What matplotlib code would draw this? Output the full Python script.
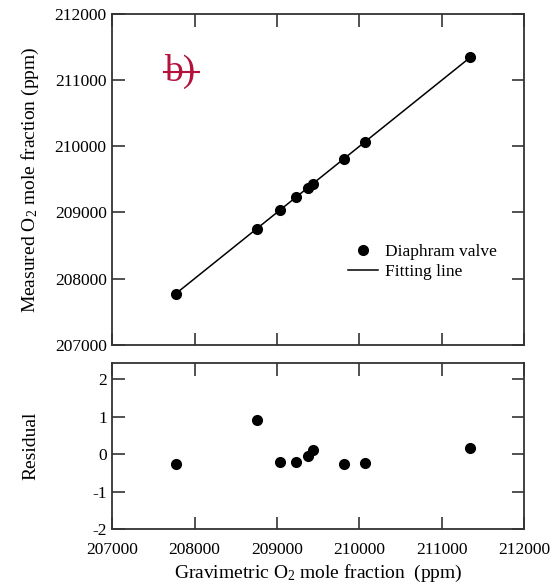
import numpy as np
import matplotlib
matplotlib.use("Agg")
import matplotlib.pyplot as plt

plt.rcParams['font.family'] = 'Liberation Serif'
plt.rcParams['mathtext.fontset'] = 'custom'
plt.rcParams['mathtext.rm'] = 'Liberation Serif'
plt.rcParams['mathtext.it'] = 'Liberation Serif:italic'
plt.rcParams['axes.unicode_minus'] = False

# gravimetric O2 mole fraction (ppm)
grav = [207770, 208755, 209040, 209235, 209375, 209435, 209810, 210065, 211345]
# measured O2 mole fraction (ppm)
measured = [207770, 208756, 209040, 209235, 209375, 209435, 209810, 210065, 211345]
# residuals
residual = [-0.27, 0.90, -0.20, -0.20, -0.04, 0.11, -0.27, -0.23, 0.17]

xticks = [207000, 208000, 209000, 210000, 211000, 212000]
yticks_top = [207000, 208000, 209000, 210000, 211000, 212000]
yticks_res = [-2, -1, 0, 1, 2]

spine_col = '#333333'

fig = plt.figure(figsize=(5.55, 5.88), dpi=100)
ax1 = fig.add_axes([0.2023, 0.4138, 0.7423, 0.5624])
ax2 = fig.add_axes([0.2023, 0.1003, 0.7423, 0.2818])

for ax in (ax1, ax2):
    for s in ax.spines.values():
        s.set_linewidth(1.3)
        s.set_color(spine_col)
    ax.tick_params(direction='in', length=9, width=1.2, color=spine_col,
                   top=True, right=True, labelsize=12.5, pad=4)
    ax.set_xlim(207000, 212000)
    ax.set_xticks(xticks)

# top panel
fit = np.polyfit(grav, measured, 1)
xf = np.array([min(grav), max(grav)])
ax1.plot(xf, np.polyval(fit, xf), color='black', lw=1.1, label='Fitting line')
ax1.plot(grav, measured, 'o', color='black', ms=7, label='Diaphram valve')
ax1.set_ylim(207000, 212000)
ax1.set_yticks(yticks_top)
ax1.set_xticklabels([])
ax1.set_ylabel('Measured O$_2$ mole fraction (ppm)', fontsize=14, labelpad=10)

h, l = ax1.get_legend_handles_labels()
ax1.legend(h[::-1], l[::-1], loc='upper left', bbox_to_anchor=(0.555, 0.325),
           frameon=False, fontsize=12.5, handlelength=1.75, handletextpad=0.4,
           labelspacing=0.2, borderaxespad=0)

ax1.text(0.125, 0.826, 'b)', transform=ax1.transAxes, color='#b3123c',
         fontsize=27, ha='left', va='center')
ax1.plot([0.125, 0.21], [0.826, 0.826], transform=ax1.transAxes,
         color='#b3123c', lw=1.5)

# residual panel
ax2.plot(grav, residual, 'o', color='black', ms=7)
ax2.set_ylim(-2, 2.42)
ax2.set_yticks(yticks_res)
ax2.set_xticklabels([str(t) for t in xticks])
ax2.tick_params(axis='x', pad=9)
ax2.set_ylabel('Residual', fontsize=14, labelpad=38)
ax2.set_xlabel('Gravimetric O$_2$ mole fraction  (ppm)', fontsize=14, labelpad=4)

fig.savefig('out.png', dpi=100)
